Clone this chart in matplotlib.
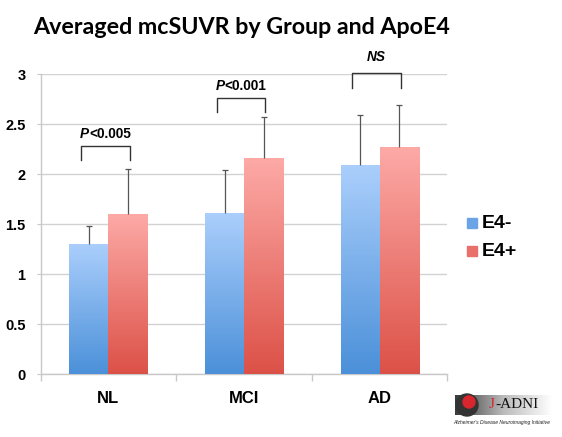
import numpy as np
import matplotlib
matplotlib.use("Agg")
import matplotlib.pyplot as plt
from matplotlib.patches import Rectangle, Circle
from matplotlib.colors import LinearSegmentedColormap

categories = ["NL", "MCI", "AD"]
series_names = ["E4-", "E4+"]
e4_neg = [1.30, 1.61, 2.09]
e4_pos = [1.60, 2.16, 2.27]
err_neg = [0.18, 0.43, 0.50]
err_pos = [0.45, 0.41, 0.42]
sig_labels = ["P<0.005", "P<0.001", "NS"]
bracket_top = [2.28, 2.76, 3.01]
bracket_leg = [2.14, 2.62, 2.86]
yticks = [0, 0.5, 1, 1.5, 2, 2.5, 3]
ytick_labels = ["0", "0.5", "1", "1.5", "2", "2.5", "3"]

fig = plt.figure(figsize=(5.62, 4.37), dpi=100)
ax = fig.add_axes([0.0724, 0.1435, 0.7236, 0.6865])

x = np.arange(len(categories))
w = 0.288
blue_cmap = LinearSegmentedColormap.from_list("b", ["#4b90d9", "#abcffc"])
red_cmap = LinearSegmentedColormap.from_list("r", ["#dc5147", "#fdaaa7"])

grad = np.linspace(0, 1, 256).reshape(-1, 1)
for vals, errs, off, cmap in [(e4_neg, err_neg, -w / 2, blue_cmap),
                              (e4_pos, err_pos, w / 2, red_cmap)]:
    bars = ax.bar(x + off, vals, width=w, color="none", edgecolor="none", zorder=3)
    for b in bars:
        x0 = b.get_x()
        bw, bh = b.get_width(), b.get_height()
        im = ax.imshow(grad, cmap=cmap, origin="lower", aspect="auto",
                       extent=[x0, x0 + bw, 0, bh], zorder=3)
        im.set_clip_path(b)
    tops = np.array(vals) + np.array(errs)
    ax.vlines(x + off, vals, tops, color="#555555", lw=0.9, zorder=4)
    ax.plot(x + off, tops, ls="none", marker="_", ms=5, mew=0.9,
            color="#555555", zorder=4)

# significance brackets
for i, (lab, top, leg) in enumerate(zip(sig_labels, bracket_top, bracket_leg)):
    xl, xr = x[i] - 0.2, x[i] + 0.158
    xc = (xl + xr) / 2
    ax.plot([xl, xl, xr, xr], [leg, top, top, leg], color="#333333", lw=1.0,
            clip_on=False, zorder=5)
    if lab.startswith("P"):
        t = ax.annotate("P", xy=(xc, top + 0.12), xycoords="data",
                        xytext=(-12, 0), textcoords="offset points",
                        ha="right", va="center", fontsize=9.8, fontweight="bold",
                        style="italic", family="Liberation Sans", annotation_clip=False)
        ax.annotate(lab[1:], xy=(1, 0.5), xycoords=t, ha="left", va="center",
                    fontsize=9.8, fontweight="bold", family="Liberation Sans",
                    annotation_clip=False)
    else:
        ax.text(xc, top + 0.16, lab, ha="center", va="center",
                fontsize=9.8, fontweight="bold", style="italic",
                family="Liberation Sans", clip_on=False)

ax.set_xlim(-0.5, 2.5)
ax.set_ylim(0, 3)
ax.set_yticks(yticks)
ax.set_yticklabels(ytick_labels, fontsize=10.5, fontweight="bold", family="Liberation Sans")
ax.set_xticks(x)
ax.set_xticklabels(categories, fontsize=12, fontweight="bold", family="Liberation Sans")
ax.tick_params(axis="x", length=0, pad=12)
ax.set_xticks([-0.5, 0.5, 1.5, 2.5], minor=True)
ax.tick_params(axis="x", which="minor", length=5, color="#c8c8c8", width=1)
ax.tick_params(axis="y", length=3, color="#c8c8c8", pad=8)
ax.yaxis.grid(True, color="#d2d2d2", lw=1)
ax.set_axisbelow(True)
for s in ["top", "right"]:
    ax.spines[s].set_visible(False)
for s in ["left", "bottom"]:
    ax.spines[s].set_color("#c8c8c8")
    ax.spines[s].set_linewidth(1)

# legend
legend_colors = ["#6aa4e6", "#e9706a"]
for i, (name, c) in enumerate(zip(series_names, legend_colors)):
    yc = 1 - (223 + i * 28) / 437
    fig.patches.append(Rectangle((467 / 562, yc - 5 / 437), 10 / 562, 10 / 437,
                                 transform=fig.transFigure, color=c))
    fig.text(482 / 562, yc, name, fontsize=14, fontweight="bold",
             family="Liberation Sans", va="center", ha="left")

# title (fit to reference width)
title = fig.text(33 / 562, 1 - 27 / 437, "Averaged mcSUVR by Group and ApoE4",
                 fontsize=18, fontweight="bold", family="Lato",
                 va="center", ha="left")
r = fig.canvas.get_renderer()
tw = title.get_window_extent(r).width
title.set_fontsize(18 * 418 / tw)

# logo
lax = fig.add_axes([448 / 562, 0, 114 / 562, 45 / 437])
lax.set_xlim(448, 562)
lax.set_ylim(437, 392)
lax.axis("off")
lg = np.linspace(0, 1, 256).reshape(1, -1)
lcm = LinearSegmentedColormap.from_list("g", ["#3a3a3a", "#bbbbbb", "#ffffff"])
lax.imshow(lg, cmap=lcm, aspect="auto", extent=[455, 552, 415, 395], zorder=1)
lax.add_patch(Circle((467, 405), 11, color="#333333", zorder=2))
lax.add_patch(Circle((469, 402), 6, color="#d8262e", zorder=3))
lax.text(489, 405, "J", color="#d8262e", fontsize=11, family="Liberation Serif",
         va="center", ha="left", zorder=4)
lax.text(495, 405, "-ADNI", color="#111111", fontsize=11, family="Liberation Serif",
         va="center", ha="left", zorder=4)
lax.text(502, 422.5, "Alzheimer's Disease Neuroimaging Initiative", fontsize=3.6,
         style="italic", family="Liberation Sans", va="center", ha="center", color="#222222")

fig.savefig("out.png", dpi=100)
